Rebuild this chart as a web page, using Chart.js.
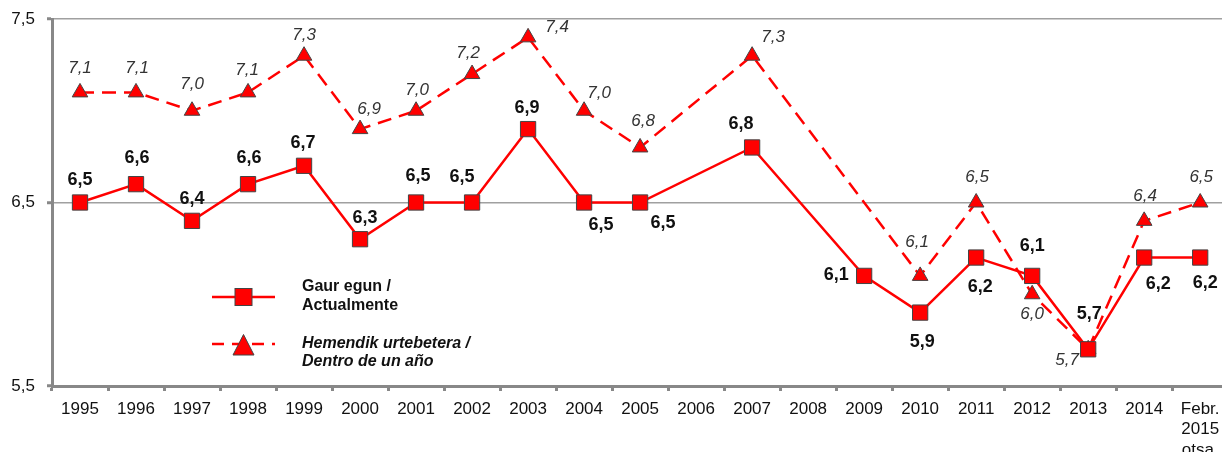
<!DOCTYPE html>
<html><head><meta charset="utf-8">
<script src="https://cdn.jsdelivr.net/npm/chart.js@4/dist/chart.umd.min.js"></script>
<style>html,body{margin:0;padding:0;background:#fff;overflow:hidden}
#wrap{width:1240px;height:452px;position:relative}
canvas{display:block}
</style></head><body><div id="wrap"><canvas id="c" width="1240" height="452"></canvas></div>
<script>
// ---- data ----
const categories = ['1995','1996','1997','1998','1999','2000','2001','2002','2003','2004','2005','2006','2007','2008','2009','2010','2011','2012','2013','2014',['Febr.','2015','otsa.']];
const actual   = [6.5,6.6,6.4,6.6,6.7,6.3,6.5,6.5,6.9,6.5,6.5,null,6.8,null,6.1,5.9,6.2,6.1,5.7,6.2,6.2];
const nextYear = [7.1,7.1,7.0,7.1,7.3,6.9,7.0,7.2,7.4,7.0,6.8,null,7.3,null,null,6.1,6.5,6.0,5.7,6.4,6.5];
const yTicks = [5.5,6.5,7.5];
const seriesNames = [['Gaur egun /','Actualmente'],['Hemendik urtebetera /','Dentro de un año']];

// ---- label nudges (dx, dy) relative to each point ----
const actualLabelNudge = [[0,-22],[1,-26],[0,-22],[1,-26],[-1,-23],[5,-21],[2,-26],[-10,-25],[-1,-21],[17,23],[23,21],null,[-11,-23],null,[-28,-1],[2,29],[4,29],[0,-30],[1,-35],[14,26],[5,25]];
const nextLabelNudge = [[0,-24],[1,-24],[0,-26],[-1,-22],[0,-20],[9,-20],[1,-20],[-4,-21],[29,-10],[15,-17],[3,-26],null,[21,-18],null,null,[-3,-34],[1,-25],[0,20],[-21,11],[1,-25],[1,-25]];

const FONT = "'Liberation Sans', Arial, sans-serif";
const fmt = v => v.toFixed(1).replace('.', ',');

const labelPlugin = {
  id: 'labels',
  afterDatasetsDraw(chart) {
    const ctx = chart.ctx;
    ctx.save();
    ctx.textAlign = 'center';
    ctx.textBaseline = 'middle';
    const sets = [
      {vals: actual, nudge: actualLabelNudge, font: "bold 18px " + FONT, color: '#111'},
      {vals: nextYear, nudge: nextLabelNudge, font: "italic 17px " + FONT, color: '#333'}
    ];
    sets.forEach((s, di) => {
      const meta = chart.getDatasetMeta(di);
      ctx.font = s.font; ctx.fillStyle = s.color;
      s.vals.forEach((v, i) => {
        if (v === null || !s.nudge[i]) return;
        const el = meta.data[i];
        ctx.fillText(fmt(v), el.x + s.nudge[i][0], el.y + s.nudge[i][1]);
      });
    });
    // legend
    const lx0 = 212, lx1 = 275, mx = 243.5;
    let y = 297;
    ctx.strokeStyle = '#ff0000'; ctx.lineWidth = 2.5; ctx.setLineDash([]);
    ctx.beginPath(); ctx.moveTo(lx0, y); ctx.lineTo(lx1, y); ctx.stroke();
    ctx.fillStyle = '#ff0000'; ctx.strokeStyle = '#444'; ctx.lineWidth = 1;
    ctx.fillRect(mx - 8.5, y - 8.5, 17, 17); ctx.strokeRect(mx - 8.5, y - 8.5, 17, 17);
    ctx.fillStyle = '#111'; ctx.textAlign = 'left';
    ctx.font = "bold 16px " + FONT;
    ctx.fillText(seriesNames[0][0], 302, 287);
    ctx.fillText(seriesNames[0][1], 302, 306);
    y = 344;
    ctx.strokeStyle = '#ff0000'; ctx.lineWidth = 2.5; ctx.setLineDash([12, 8]);
    ctx.beginPath(); ctx.moveTo(lx0, y); ctx.lineTo(lx1, y); ctx.stroke();
    ctx.setLineDash([]);
    ctx.fillStyle = '#ff0000'; ctx.strokeStyle = '#444'; ctx.lineWidth = 1;
    ctx.beginPath(); ctx.moveTo(mx, 334.5); ctx.lineTo(mx + 10.5, 355); ctx.lineTo(mx - 10.5, 355); ctx.closePath();
    ctx.fill(); ctx.stroke();
    ctx.fillStyle = '#111';
    ctx.font = "italic bold 16px " + FONT;
    ctx.fillText(seriesNames[1][0], 302, 344);
    ctx.fillText(seriesNames[1][1], 302, 362);
    ctx.restore();
  }
};

new Chart(document.getElementById('c'), {
  type: 'line',
  data: {
    labels: categories,
    datasets: [
      {label: seriesNames[0].join(' '), data: actual, borderColor: '#ff0000', borderWidth: 2.5,
       pointStyle: 'rect', pointRadius: 10.8, pointBackgroundColor: '#ff0000', pointBorderColor: '#444', pointBorderWidth: 1,
       spanGaps: true, tension: 0, clip: false},
      {label: seriesNames[1].join(' '), data: nextYear, borderColor: '#ff0000', borderWidth: 2.5, borderDash: [14, 8],
       pointStyle: 'triangle', pointRadius: 9, pointBackgroundColor: '#ff0000', pointBorderColor: '#444', pointBorderWidth: 1,
       spanGaps: true, tension: 0, clip: false}
    ]
  },
  options: {
    responsive: false, animation: false, devicePixelRatio: 1,
    layout: {padding: {top: 19, right: 2, left: 0, bottom: 0}},
    plugins: {legend: {display: false}, tooltip: {enabled: false}},
    scales: {
      x: {
        offset: true,
        grid: {display: true, offset: true, drawOnChartArea: false, drawTicks: true, tickLength: 5, tickColor: '#888', tickWidth: 3},
        border: {display: true, color: '#888', width: 3},
        ticks: {color: '#111', font: {family: FONT, size: 17}, padding: 8, maxRotation: 0, autoSkip: false},
        afterFit(s) { s.height = 66; s.paddingLeft = 0; s.paddingRight = 0; }
      },
      y: {
        min: 5.5, max: 7.5,
        afterBuildTicks(s) { s.ticks = yTicks.map(v => ({value: v})); },
        grid: {color: '#a0a0a0', lineWidth: 1.5, drawTicks: true, tickLength: 5, tickColor: '#888', tickWidth: 3},
        border: {display: true, color: '#888', width: 3},
        ticks: {color: '#111', font: {family: FONT, size: 17}, padding: 12, callback: v => fmt(v)},
        afterFit(s) { s.width = 52; s.paddingTop = 0; s.paddingBottom = 0; }
      }
    }
  },
  plugins: [labelPlugin]
});
</script></body></html>
